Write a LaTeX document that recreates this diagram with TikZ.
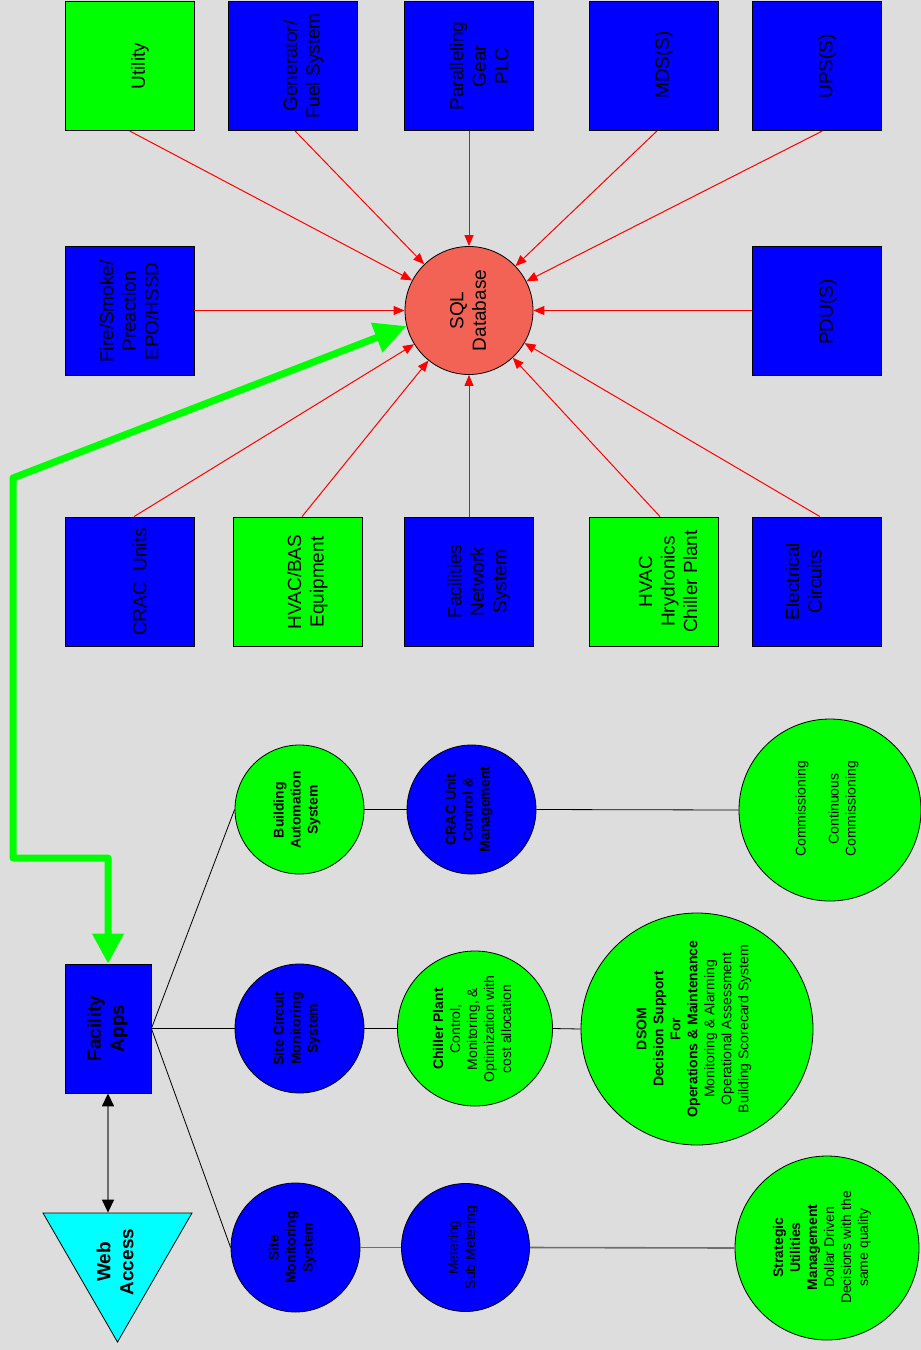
\documentclass[tikz,border=0pt]{standalone}
\usepackage{fontspec}
\setmainfont{Liberation Sans}
\usetikzlibrary{arrows.meta,shapes.geometric}
\definecolor{bg}{RGB}{221,221,221}
\definecolor{gr}{RGB}{0,255,0}
\definecolor{bl}{RGB}{0,0,255}
\definecolor{cy}{RGB}{0,255,255}
\definecolor{salmon}{RGB}{242,99,86}
\definecolor{lgray}{RGB}{110,110,110}
\begin{document}
\begin{tikzpicture}[x=1pt,y=-1pt,
  sq/.style={draw=black, line width=0.8pt, minimum width=129pt, minimum height=129pt, inner sep=0pt},
  circ/.style={circle, draw=black, line width=0.8pt, inner sep=0pt},
  rt/.style={rotate=90, align=center, inner sep=0pt},
  big/.style={font=\fontsize{19}{22.5}\selectfont},
  bigb/.style={font=\fontsize{19}{23}\selectfont\bfseries},
  sm/.style={font=\fontsize{14}{17}\selectfont},
  smb/.style={font=\fontsize{14}{17}\selectfont\bfseries},
  feed/.style={draw=red, line width=1pt, -{Triangle[length=11pt,width=9pt]}},
  link/.style={draw=black, line width=0.8pt},
  glink/.style={draw=lgray, line width=1.6pt},
  bigarrow/.style={draw=gr, line width=7pt, line join=round,
     {Triangle[length=30pt,width=30pt]}-{Triangle[length=32pt,width=30pt]}},
  webarrow/.style={draw=lgray, line width=1.4pt,
     {Triangle[length=13pt,width=12pt,color=black]}-{Triangle[length=13pt,width=12pt,color=black]}}
]
\useasboundingbox (0,0) rectangle (921,1350);
\fill[bg] (0,0) rectangle (921,1350);

% top row
\node[sq, fill=gr] (util) at (129.5,66) {};
\node[sq, fill=bl] (gen) at (292.5,66) {};
\node[sq, fill=bl] (par) at (469,66) {};
\node[sq, fill=bl] (mds) at (653.5,66) {};
\node[sq, fill=bl] (ups) at (816.5,66) {};
\node[rt,big] (utilT) at (140,66) {Utility};
\node[rt,big] (genT) at (303.5,66) {Generator/\\Fuel System};
\node[rt,big] (parT) at (479,66) {Paralleling\\Gear\\PLC};
\node[rt,big] (mdsT) at (664,65) {MDS(S)};
\node[rt,big] (upsT) at (827.5,66.5) {UPS(S)};

% middle row
\node[sq, fill=bl] (fire) at (129.5,310.5) {};
\node[circ, fill=salmon, minimum size=128pt] (sql) at (469,310.5) {};
\node[sq, fill=bl] (pdu) at (816.5,310.5) {};
\node[rt,big] (fireT) at (129,311.5) {Fire/Smoke/\\Preaction\\EPO/HSSD};
\node[rt,big] (sqlT) at (468,310.5) {SQL\\Database};
\node[rt,big] (pduT) at (828,312) {PDU(S)};

% third row
\node[sq, fill=bl] (crac) at (129.5,581.5) {};
\node[sq, fill=gr] (hbas) at (297.5,581.5) {};
\node[sq, fill=bl] (fns) at (469,581.5) {};
\node[sq, fill=gr] (hyd) at (653.5,581.5) {};
\node[sq, fill=bl] (elec) at (816.5,581.5) {};
\node[rt,big] (cracT) at (139.5,582) {CRAC\ \ Units};
\node[rt,big] (hbasT) at (307.5,582) {HVAC/BAS\\Equipment};
\node[rt,big] (fnsT) at (479,581.5) {Facilities\\Network\\System};
\node[rt,big] (hydT) at (668,581.5) {HVAC\\Hrydronics\\Chiller Plant};
\node[rt,big] (elecT) at (803.5,581.5) {Electrical\\Circuits};

% red feeds
\draw[feed] (util.south) -- (sql);
\draw[feed] ([xshift=2.5pt]gen.south) -- (sql);
\draw[feed] (par.south) -- (sql);
\draw[feed] ([xshift=3.5pt]mds.south) -- (sql);
\draw[feed] ([xshift=6pt]ups.south) -- (sql);
\draw[feed] (fire.east) -- (sql);
\draw[feed] (pdu.west) -- (sql);
\draw[feed] ([xshift=4.5pt]crac.north) -- (sql);
\draw[feed] ([xshift=4.5pt]hbas.north) -- (sql);
\draw[feed] (fns.north) -- (sql);
\draw[feed] ([xshift=6.5pt]hyd.north) -- (sql);
\draw[feed] ([xshift=3.5pt]elec.north) -- (sql);

% circles row 1
\node[circ, fill=gr, minimum size=129pt] (bas) at (299.5,809.5) {};
\node[circ, fill=bl, minimum size=129pt] (cracu) at (471.5,809.5) {};
\node[circ, fill=gr, minimum size=182pt] (comm) at (830,810) {};
\node[rt,smb] (basT) at (297,810) {Building\\Automation\\System};
\node[rt,smb] (cracuT) at (469,809.5) {CRAC Unit\\Control \&\\Management};
\node[rt,sm] (commT) at (827,809) {Commissioning\\[16pt]Continuous\\Commissioning};

% row 2
\node[draw=black, line width=0.8pt, fill=bl, minimum width=86pt, minimum height=129pt, inner sep=0pt] (fapps) at (108,1028.5) {};
\node[rt,bigb] (fappsT) at (107.5,1028.5) {Facility\\Apps};
\node[circ, fill=bl, minimum size=129pt] (sitec) at (299.5,1028.5) {};
\node[circ, fill=gr, minimum size=155pt] (chil) at (475,1028.5) {};
\node[circ, fill=gr, minimum size=232pt] (dsom) at (697,1029) {};
\node[rt,smb] (sitecT) at (297,1028.5) {Site Circuit\\Monitoring\\System};
\node[rt,sm] (chilT) at (472,1029) {\textbf{Chiller Plant}\\Control,\\Monitoring, \&\\Optimization with\\cost allocation};
\node[rt,sm] (dsomT) at (694,1029) {\textbf{DSOM}\\\textbf{Decision Support}\\\textbf{For}\\\textbf{Operations \& Maintenance}\\Monitoring \& Alarming\\Operational Assessment\\Building Scorecard System};

% row 3
\node[regular polygon, regular polygon sides=3, shape border rotate=180, draw=black, line width=0.8pt, fill=cy, minimum size=172pt, inner sep=0pt] (web) at (117.5,1256) {};
\node[rt,bigb] (webT) at (115,1262) {Web\\Access};
\node[circ, fill=bl, minimum size=129pt] (sitem) at (295.5,1247.5) {};
\node[circ, fill=bl, minimum size=128pt] (meter) at (465.5,1247.5) {};
\node[circ, fill=gr, minimum size=184pt] (strat) at (827,1248) {};
\node[rt,smb] (sitemT) at (292,1247.5) {Site\\Monitoring\\System};
\node[rt,sm] (meterT) at (463,1247.5) {Metering\\Sub Metering};
\node[rt,sm] (stratT) at (822,1247.5) {\textbf{Strategic}\\\textbf{Utilities}\\\textbf{Management}\\Dollar Driven\\Decisions with the\\same quality};

% links
\draw[link] (fapps.east) -- (bas.west);
\draw[link] (fapps.east) -- (sitec.west);
\draw[link] (fapps.east) -- (sitem.west);
\draw[link] (bas.east) -- (cracu.west);
\draw[link] (cracu.east) -- (comm.west);
\draw[link] (sitec.east) -- (chil.west);
\draw[link] (chil.east) -- (dsom.west);
\draw[glink] (sitem.east) -- (meter.west);
\draw[glink] (meter.east) -- (strat.west);

\coordinate (webtop) at (fapps.south |- web.north);
\draw[webarrow] (fapps.south) -- (webtop);

% green arrow
\coordinate (g1) at (108,858);
\coordinate (g2) at (13,858);
\coordinate (g3) at (13,478);
\draw[bigarrow] (fapps.north) -- (g1) -- (g2) -- (g3) -- (sql.194);
\end{tikzpicture}
\end{document}
